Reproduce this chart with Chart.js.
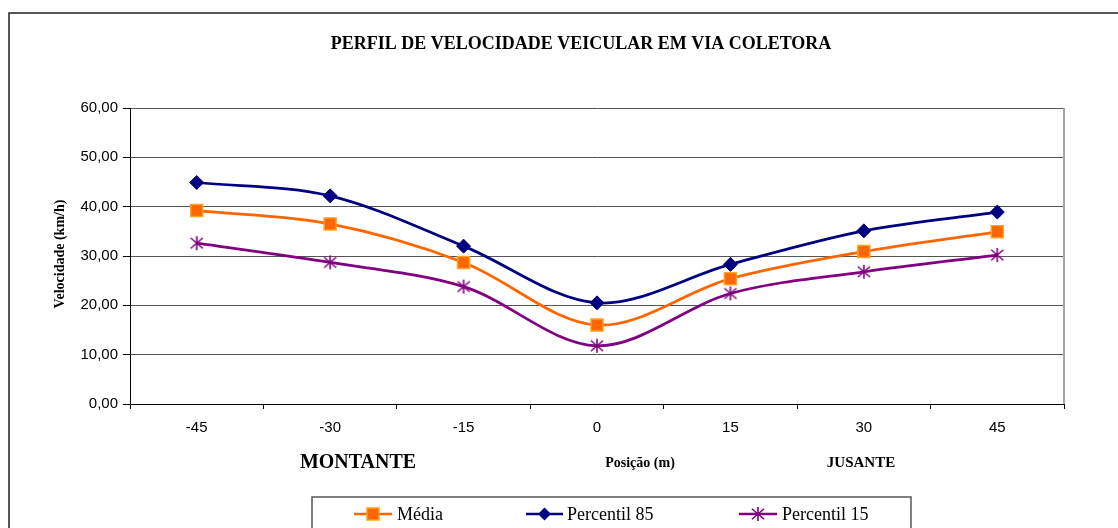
<!DOCTYPE html>
<html>
<head>
<meta charset="utf-8">
<script src="https://cdn.jsdelivr.net/npm/chart.js@4/dist/chart.umd.min.js"></script>
<style>
  body { margin: 0; background: #fff; }
  #wrap { width: 1118px; height: 528px; position: relative; }
</style>
</head>
<body>
<div id="wrap"><canvas id="grafico"></canvas></div>
<script>
// dados
const posicoes = ['-45', '-30', '-15', '0', '15', '30', '45'];
const media = [39.2, 36.5, 28.7, 16.0, 25.4, 30.9, 34.9];
const perc85 = [44.9, 42.2, 32.0, 20.5, 28.3, 35.1, 38.9];
const perc15 = [32.6, 28.7, 23.8, 11.8, 22.4, 26.8, 30.2];
const yMin = 0, yMax = 60, yStep = 10;

const titulo = 'PERFIL DE VELOCIDADE VEICULAR EM VIA COLETORA';
const tituloY = 'Velocidade (km/h)';

const SERIF = '"Liberation Serif", "Times New Roman", serif';
const SANS = '"Liberation Sans", Arial, sans-serif';

// marcador asterisco (estilo Excel)
function makeStar(color, size) {
    const c = document.createElement('canvas');
    c.width = size; c.height = size;
    const g = c.getContext('2d');
    const m = size / 2, r = size / 2 - 1;
    g.strokeStyle = color;
    g.lineWidth = 1.6;
    g.beginPath();
    g.moveTo(m, m - r); g.lineTo(m, m + r);
    g.moveTo(m - r * 0.87, m - r * 0.75); g.lineTo(m + r * 0.87, m + r * 0.75);
    g.moveTo(m + r * 0.87, m - r * 0.75); g.lineTo(m - r * 0.87, m + r * 0.75);
    g.stroke();
    return c;
}
const star = makeStar('#800080', 16);

function drawMarker(ctx, ds, x, y) {
    ctx.save();
    if (ds.pointStyle === 'rect') {
        const s = 12;
        ctx.fillStyle = ds.pointBackgroundColor;
        ctx.strokeStyle = ds.pointBorderColor;
        ctx.lineWidth = 1.5;
        ctx.fillRect(x - s / 2, y - s / 2, s, s);
        ctx.strokeRect(x - s / 2, y - s / 2, s, s);
    } else if (ds.pointStyle === 'rectRot') {
        const r = 6.5;
        ctx.fillStyle = ds.pointBackgroundColor;
        ctx.beginPath();
        ctx.moveTo(x, y - r); ctx.lineTo(x + r, y); ctx.lineTo(x, y + r); ctx.lineTo(x - r, y);
        ctx.closePath();
        ctx.fill();
    } else {
        ctx.drawImage(ds.pointStyle, x - 8, y - 8);
    }
    ctx.restore();
}

const decoracao = {
    id: 'decoracao',
    afterDraw(chart) {
        const ctx = chart.ctx;
        const a = chart.chartArea;
        ctx.save();

        // moldura externa
        ctx.strokeStyle = '#222';
        ctx.lineWidth = 1.5;
        ctx.beginPath();
        ctx.moveTo(9, 540); ctx.lineTo(9, 13); ctx.lineTo(1118, 13);
        ctx.stroke();

        // borda direita da area de plotagem
        ctx.strokeStyle = '#a6a6a6';
        ctx.lineWidth = 2;
        ctx.beginPath();
        ctx.moveTo(a.right, a.top); ctx.lineTo(a.right, a.bottom);
        ctx.stroke();

        ctx.fillStyle = '#000';
        ctx.textAlign = 'center';
        ctx.textBaseline = 'middle';

        // titulo
        ctx.font = 'bold 18px ' + SERIF;
        ctx.fillText(titulo, 581, 44, 535);

        // titulo do eixo y
        ctx.save();
        ctx.translate(60, 254);
        ctx.rotate(-Math.PI / 2);
        ctx.font = 'bold 14px ' + SERIF;
        ctx.fillText(tituloY, 0, 0, 128);
        ctx.restore();

        // rotulos abaixo do eixo x
        ctx.font = 'bold 20px ' + SERIF;
        ctx.fillText('MONTANTE', 358, 463, 116);
        ctx.font = 'bold 14px ' + SERIF;
        ctx.fillText('Posição (m)', 640, 463, 80);
        ctx.font = 'bold 15px ' + SERIF;
        ctx.fillText('JUSANTE', 861, 463, 71);

        // legenda
        ctx.strokeStyle = '#555';
        ctx.lineWidth = 1.5;
        ctx.strokeRect(312, 497, 599, 50);
        const itens = [
            { x1: 354, x2: 392, tx: 397 },
            { x1: 526, x2: 563, tx: 567 },
            { x1: 739, x2: 777, tx: 782 }
        ];
        const ly = 514;
        ctx.font = '18px ' + SERIF;
        ctx.textAlign = 'left';
        chart.data.datasets.forEach((ds, i) => {
            const it = itens[i];
            ctx.strokeStyle = ds.borderColor;
            ctx.lineWidth = 2.5;
            ctx.beginPath();
            ctx.moveTo(it.x1, ly); ctx.lineTo(it.x2, ly);
            ctx.stroke();
            drawMarker(ctx, ds, (it.x1 + it.x2) / 2, ly);
            ctx.fillStyle = '#000';
            ctx.fillText(ds.label, it.tx, ly + 1);
        });

        ctx.restore();
    }
};

new Chart(document.getElementById('grafico'), {
    type: 'line',
    data: {
        labels: posicoes,
        datasets: [{
            label: 'Média',
            data: media,
            borderColor: '#ff6600',
            borderWidth: 2.75,
            pointStyle: 'rect',
            pointRadius: 8.5,
            pointBackgroundColor: '#ff6600',
            pointBorderColor: '#ffa020',
            pointBorderWidth: 1.5,
            tension: 0.33
        }, {
            label: 'Percentil 85',
            data: perc85,
            borderColor: '#000080',
            borderWidth: 2.75,
            pointStyle: 'rectRot',
            pointRadius: 7,
            pointBackgroundColor: '#000080',
            pointBorderColor: '#000080',
            pointBorderWidth: 1,
            tension: 0.33
        }, {
            label: 'Percentil 15',
            data: perc15,
            borderColor: '#800080',
            borderWidth: 2.75,
            pointStyle: star,
            pointRadius: 8,
            pointBackgroundColor: '#800080',
            pointBorderColor: '#800080',
            tension: 0.33
        }]
    },
    options: {
        responsive: true,
        maintainAspectRatio: false,
        animation: false,
        layout: { padding: { left: 0, top: 108, right: 54, bottom: 94 } },
        plugins: {
            legend: { display: false },
            title: { display: false },
            tooltip: { enabled: false }
        },
        scales: {
            x: {
                offset: true,
                grid: {
                    offset: true,
                    drawOnChartArea: false,
                    tickLength: 5,
                    tickColor: '#000'
                },
                border: { color: '#000', width: 1 },
                ticks: {
                    color: '#000',
                    font: { family: SANS, size: 15 },
                    padding: 10,
                    maxRotation: 0
                },
                afterFit(scale) { scale.height = 30; }
            },
            y: {
                min: yMin,
                max: yMax,
                grid: {
                    color: '#555',
                    tickColor: '#000',
                    tickLength: 7
                },
                border: { color: '#000', width: 1 },
                ticks: {
                    stepSize: yStep,
                    color: '#000',
                    padding: 5,
                    font: { family: SANS, size: 15 },
                    callback: v => v.toFixed(2).replace('.', ',')
                },
                afterFit(scale) { scale.width = 130; }
            }
        }
    },
    plugins: [decoracao]
});
</script>
</body>
</html>
